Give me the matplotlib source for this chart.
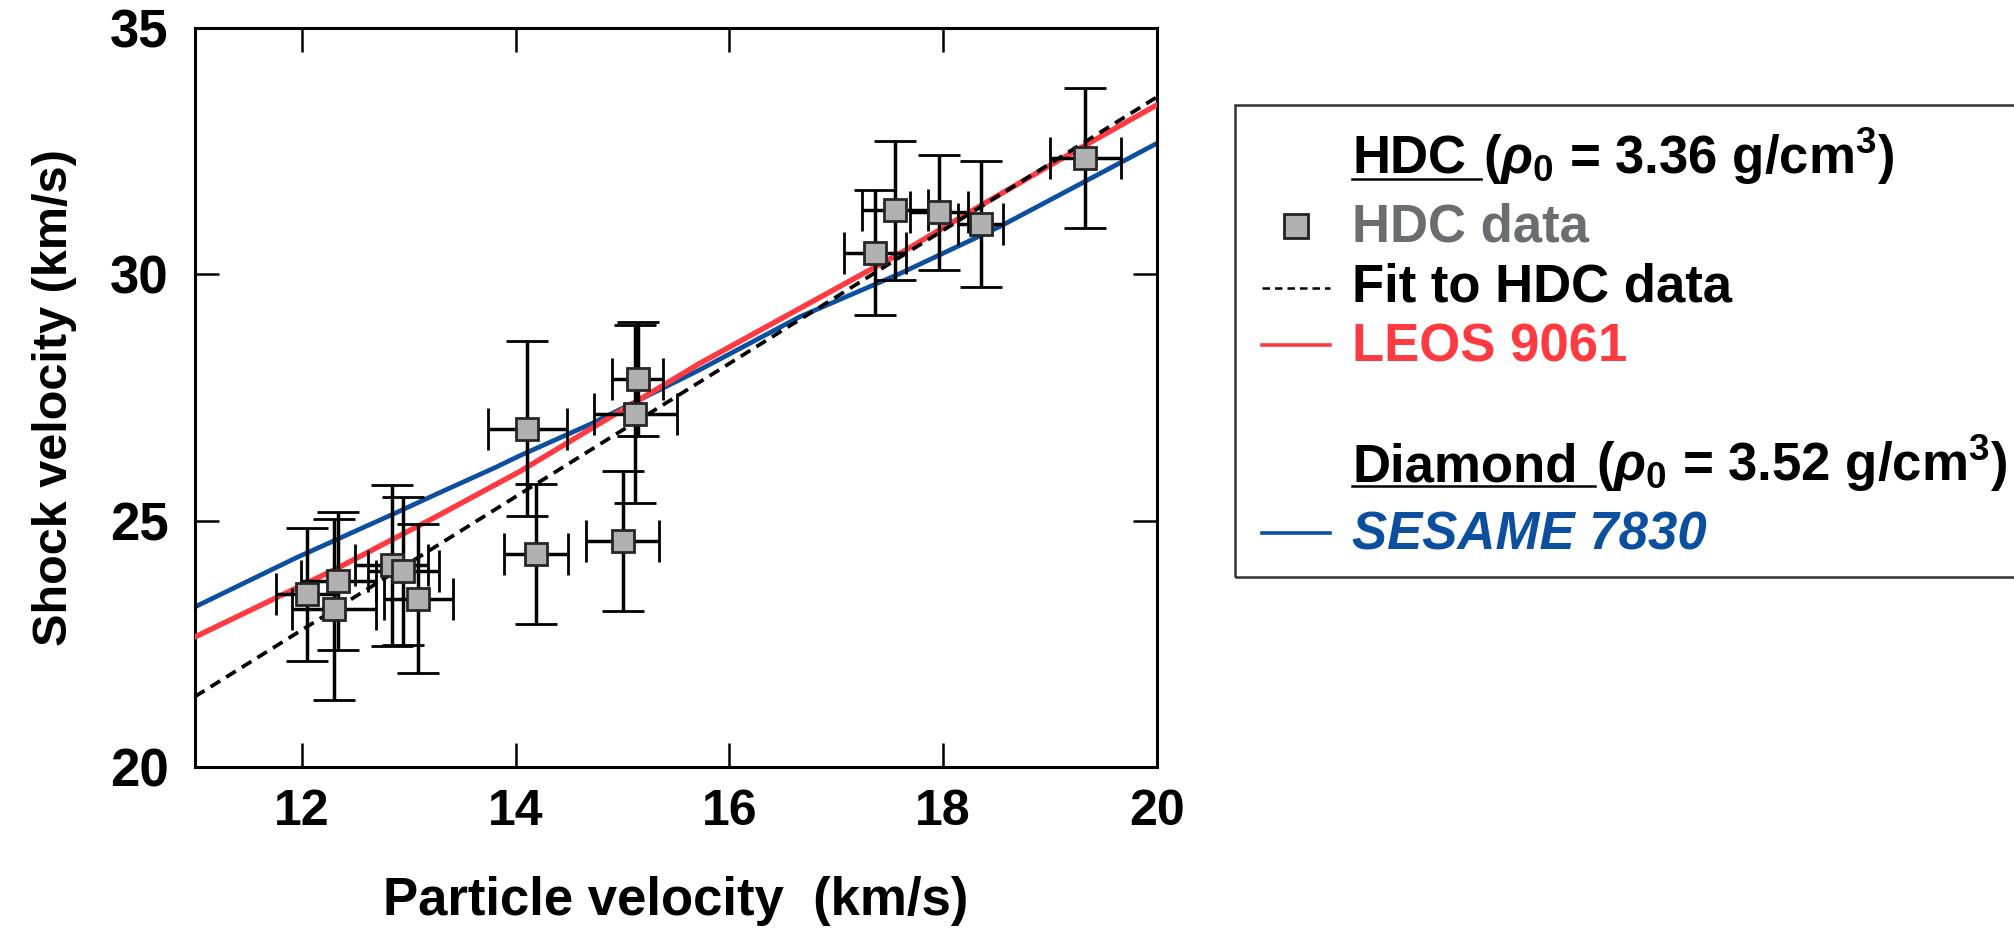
import numpy as np
import matplotlib
matplotlib.use('Agg')
import matplotlib.pyplot as plt
from matplotlib.lines import Line2D
from matplotlib.patches import Rectangle

# HDC shock data (km/s)
up = [12.05, 12.34, 12.30, 12.84, 12.95, 13.09, 14.11, 14.19, 15.00, 15.14, 15.12,
      17.36, 17.55, 17.96, 18.35, 19.33]
us = [23.51, 23.78, 23.20, 24.09, 23.98, 23.42, 26.87, 24.32, 24.59, 27.88, 27.16,
      30.44, 31.30, 31.26, 31.02, 32.37]
up_err = [0.29, 0.35, 0.39, 0.34, 0.33, 0.32, 0.37, 0.30, 0.34, 0.24, 0.39,
          0.29, 0.31, 0.27, 0.21, 0.33]
us_err = [1.35, 1.40, 1.84, 1.64, 1.50, 1.51, 1.77, 1.42, 1.42, 1.16, 1.81,
          1.27, 1.41, 1.17, 1.28, 1.42]

# linear fit to HDC data
fit_up = [11.0, 20.0]
fit_us = [21.43, 33.60]

# LEOS 9061
leos_up = [11.0, 12.3, 13.29, 14.04, 15.72, 17.6, 18.44, 19.19, 20.0]
leos_us = [22.64, 24.0, 25.12, 26.0, 28.19, 30.43, 31.51, 32.45, 33.44]

# SESAME 7830
ses_up = [11.0, 11.94, 12.87, 13.29, 13.81, 14.04, 14.71, 15.72, 16.66, 17.6, 18.53, 20.0]
ses_us = [23.25, 24.24, 25.15, 25.57, 26.08, 26.32, 26.97, 28.06, 29.14, 30.02, 30.97, 32.66]

red = '#ff3b41'
blue = '#0b4f9e'
grey_txt = '#6b6d70'

plt.rcParams['font.family'] = ['Liberation Sans Narrow', 'Liberation Sans', 'DejaVu Sans']
plt.rcParams['font.weight'] = 'bold'
plt.rcParams['mathtext.fontset'] = 'custom'
plt.rcParams['mathtext.rm'] = 'Liberation Sans:bold'
plt.rcParams['mathtext.it'] = 'Liberation Sans:italic'
plt.rcParams['mathtext.bf'] = 'Liberation Sans:bold'

W, H = 2014, 934
fig = plt.figure(figsize=(W / 100, H / 100), dpi=100)
ax = fig.add_axes([195 / W, 1 - 767 / H, 962 / W, 739 / H])

ax.plot(ses_up, ses_us, color=blue, lw=3.4, zorder=2)
ax.plot(leos_up, leos_us, color=red, lw=3.9, zorder=3)
ax.plot(fit_up, fit_us, color='black', lw=2.7, ls=(0, (3.0, 1.9)), zorder=4)
ax.errorbar(up, us, xerr=up_err, yerr=us_err, fmt='s', ms=16, mfc='#b0b0b0',
            mec='#262626', mew=2.0, ecolor='black', elinewidth=2.5, capsize=15,
            capthick=2.5, zorder=5)

ax.set_xlim(11, 20)
ax.set_ylim(20, 35)
ax.set_xticks([12, 14, 16, 18, 20])
ax.set_yticks([20, 25, 30, 35])
ax.tick_params(direction='in', length=17, width=1.8, top=True, right=True,
               labelsize=38)
ax.tick_params(axis='x', pad=16, labelsize=36)
ax.tick_params(axis='y', pad=19)
for lab in ax.get_yticklabels():
    lab.set_family(['Liberation Sans', 'DejaVu Sans'])
    lab.set_weight('bold')
for lab in ax.get_xticklabels():
    lab.set_weight('bold')
for s in ax.spines.values():
    s.set_linewidth(2.2)

ax.set_xlabel('Particle velocity  (km/s)', fontsize=38, fontweight='bold', labelpad=29)
ax.set_ylabel('Shock velocity (km/s)', fontsize=35, fontweight='bold', labelpad=24)


def fx(x):
    return x / W


def fy(y):
    return 1 - y / H


# legend box, runs off the right edge of the figure
fig.patches.append(Rectangle((fx(1235), fy(577)), fx(820), (577 - 105) / H,
                             transform=fig.transFigure, fill=False,
                             edgecolor='#333333', lw=1.8, clip_on=False))

tx = 1352
fs = 38
renderer = fig.canvas.get_renderer()


def header(name, rest, base, gap):
    t = fig.text(fx(tx), fy(base), name, fontsize=fs, fontweight='bold',
                 va='baseline', ha='left')
    bb = t.get_window_extent(renderer)
    x_end = bb.x1 + gap
    fig.add_artist(Line2D([bb.x0 / W, x_end / W], [fy(base + 5)] * 2,
                          transform=fig.transFigure, color='black', lw=1.8))
    fig.text((x_end + 2) / W, fy(base), rest, fontsize=fs, fontweight='bold',
             va='baseline', ha='left')


header('HDC', r'($\rho_0$ = 3.36 g/cm$^3$)', 174, 15)
header('Diamond', r'($\rho_0$ = 3.52 g/cm$^3$)', 481, 17)

fig.add_artist(Line2D([fx(1296)], [fy(226)], transform=fig.transFigure, marker='s',
                      ms=17, mfc='#b0b0b0', mec='#222222', mew=2.0))
fig.text(fx(tx), fy(241), 'HDC data', fontsize=fs, fontweight='bold',
         color=grey_txt, va='baseline')

fig.add_artist(Line2D([fx(1262), fx(1330)], [fy(288)] * 2, transform=fig.transFigure,
                      color='black', lw=1.8, ls=(0, (3.0, 2.0))))
fig.text(fx(tx), fy(302), 'Fit to HDC data', fontsize=fs, fontweight='bold',
         color='black', va='baseline')

fig.add_artist(Line2D([fx(1262), fx(1330)], [fy(345)] * 2, transform=fig.transFigure,
                      color=red, lw=2.6))
fig.text(fx(tx), fy(361), 'LEOS 9061', fontsize=fs, fontweight='bold',
         color=red, va='baseline')

fig.add_artist(Line2D([fx(1262), fx(1330)], [fy(533)] * 2, transform=fig.transFigure,
                      color=blue, lw=2.6))
fig.text(fx(tx), fy(549), 'SESAME 7830', fontsize=fs, fontweight='bold',
         fontstyle='italic', color=blue, va='baseline')

fig.savefig('out.png', dpi=100)
